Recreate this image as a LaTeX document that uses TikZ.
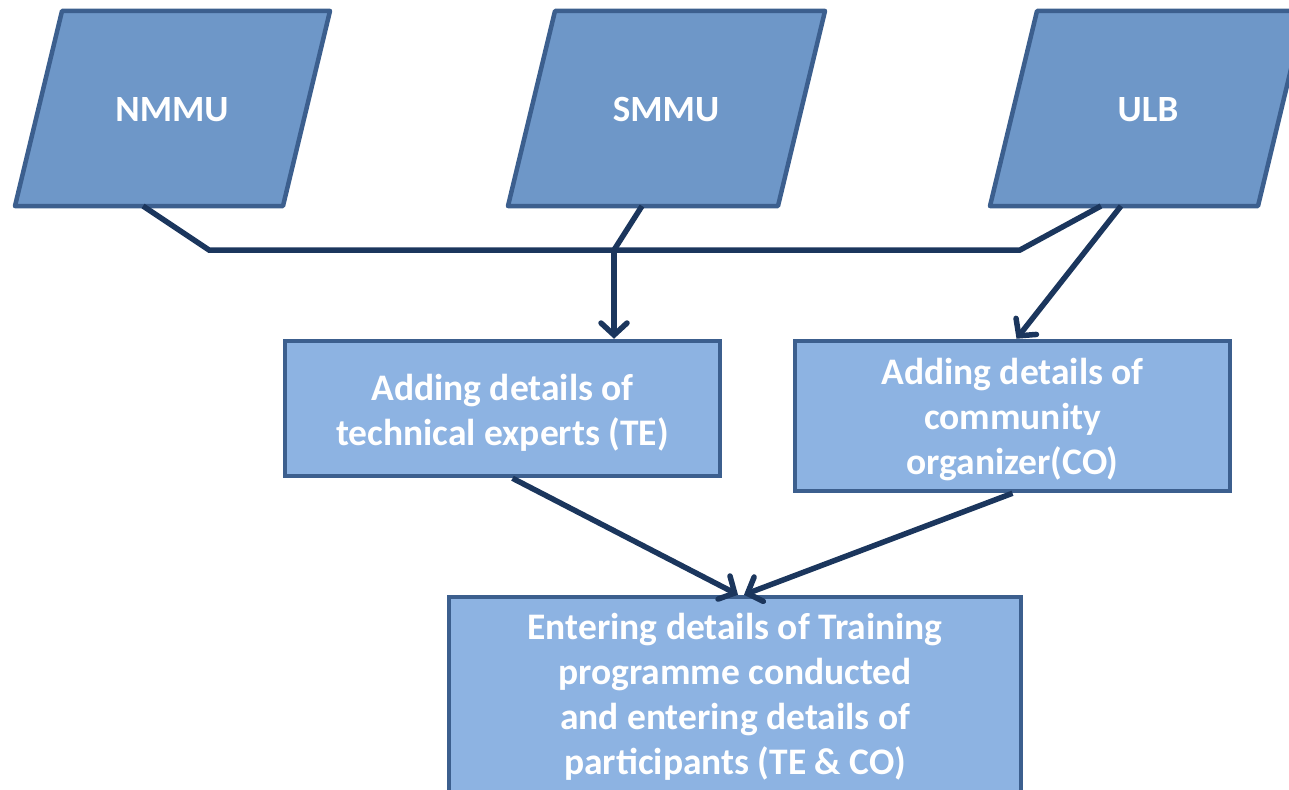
\documentclass[tikz,border=0pt]{standalone}
\usepackage{fontspec}
\setmainfont{Carlito}
\usetikzlibrary{arrows.meta}
\definecolor{parafill}{HTML}{6E97C8}
\definecolor{boxfill}{HTML}{8DB3E2}
\definecolor{bordercol}{HTML}{3C5F8E}
\definecolor{conncol}{HTML}{1B365D}
\tikzset{
  para/.style={fill=parafill, draw=bordercol, line width=4.5pt, line join=round},
  ptext/.style={text=white, font=\fontsize{37}{45}\selectfont\bfseries, align=center, inner sep=0pt},
  flowbox/.style={rectangle, fill=boxfill, draw=bordercol, line width=4.5pt},
  boxtext/.style={text=white, font=\fontsize{37.5}{45}\selectfont\bfseries, align=center, inner sep=0pt},
  conn/.style={draw=conncol, line width=5.5pt},
  arr/.style={conn, -{Straight Barb[length=12pt,width=26pt,line cap=round]}}
}
\begin{document}
\begin{tikzpicture}[x=1pt,y=-1pt]
\useasboundingbox (0,0) rectangle (1289,789);
\clip (0,0) rectangle (1289,789);
% parallelograms
\draw[para] (62,11) -- (330,11) -- (283,206) -- (15,206) -- cycle;
\draw[para] (555,11) -- (825,11) -- (778,206) -- (508,206) -- cycle;
\draw[para] (1037,11) -- (1305,11) -- (1258,206) -- (990,206) -- cycle;
\node[ptext] (nmmu) at (172,110) {NMMU};
\node[ptext] (smmu) at (666,110) {SMMU};
\node[ptext] (ulb) at (1148,110) {ULB};
% boxes
\node[flowbox, minimum width=435pt, minimum height=135pt] (te) at (502.5,408.5) {};
\node[boxtext] (tetext) at ([yshift=-4pt]te.center) {Adding details of\\technical experts (TE)};
\node[flowbox, minimum width=435pt, minimum height=150pt] (co) at (1012.5,416) {};
\node[boxtext] (cotext) at ([yshift=-4pt]co.center) {Adding details of\\community\\organizer(CO)};
\node[flowbox, minimum width=572pt, minimum height=200pt] (bot) at (735,697) {};
\node[boxtext] (bottext) at (bot.center) {Entering details of Training\\programme conducted\\and entering details of\\participants (TE \& CO)};
% connector points
\coordinate (n1) at (143,206);
\coordinate (j1) at (209,250);
\coordinate (s1) at (642,206);
\coordinate (j2) at (614,250);
\coordinate (u1) at (1101,206);
\coordinate (j3) at (1020,250);
\coordinate (u2) at (1121,206);
% connectors
\draw[conn] (n1) -- (j1) -- (j3) -- (u1);
\draw[conn] (s1) -- (j2);
\draw[arr] (j2) -- (j2 |- te.north);
\draw[arr] (u2) -- ([xshift=4pt]co.north);
\draw[arr] ([xshift=10pt]te.south) -- ([xshift=3pt]bot.north);
\draw[arr] (co.south) -- ([xshift=9pt]bot.north);
\end{tikzpicture}
\end{document}
